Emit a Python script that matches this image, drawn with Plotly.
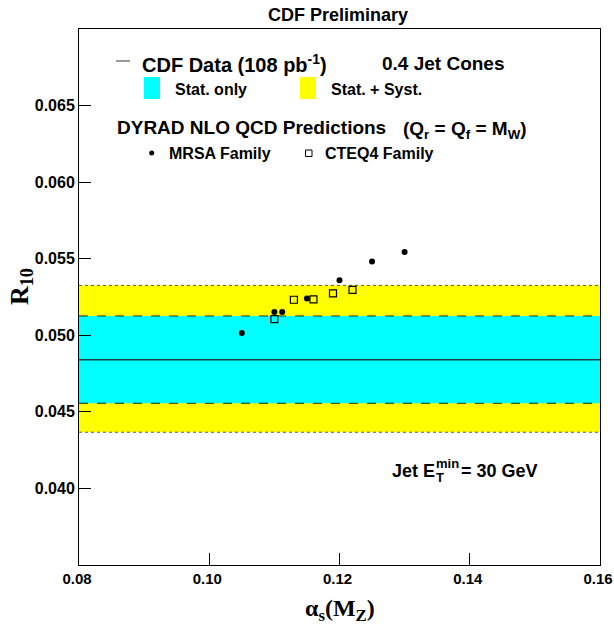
import plotly.graph_objects as go

# ---- data ----
MRSA_x = [0.105, 0.110, 0.1112, 0.115, 0.120, 0.125, 0.130]
MRSA_y = [0.05015, 0.05152, 0.05152, 0.05241, 0.05359, 0.05481, 0.05544]
CTEQ_x = [0.110, 0.113, 0.116, 0.119, 0.122]
CTEQ_y = [0.05106, 0.05232, 0.05235, 0.05274, 0.05296]
DATA_CENTER = 0.04841
STAT_LO, STAT_HI = 0.04556, 0.05126
SYST_LO, SYST_HI = 0.04367, 0.05326
X_RANGE = [0.08, 0.16]
Y_RANGE = [0.035, 0.070]
X_TICKS = [0.08, 0.10, 0.12, 0.14, 0.16]
X_TICKTEXT = ["0.08", "0.10", "0.12", "0.14", "0.16"]
Y_TICKS = [0.040, 0.045, 0.050, 0.055, 0.060, 0.065]
Y_TICKTEXT = ["0.040", "0.045", "0.050", "0.055", "0.060", "0.065"]

W, H = 614, 629
L, R, T, B = 79, 14, 29, 64
PW, PH = W - L - R, H - T - B
EPS = 1e-7


def px(x):
    return (x - L) / PW


def py(y):
    return (H - B - y) / PH


SANS = "Liberation Sans"
SERIF = "Liberation Serif"

fig = go.Figure()


def band(lo, hi, color):
    xs = [X_RANGE[0], X_RANGE[1], X_RANGE[1], X_RANGE[0], X_RANGE[0]]
    ys = [lo, lo, hi, hi, lo]
    fig.add_trace(go.Scatter(x=xs, y=ys, fill="toself", fillcolor=color,
                             line=dict(width=0), mode="lines", hoverinfo="skip",
                             showlegend=False))


def hline(yv, color, dash, width):
    fig.add_trace(go.Scatter(x=X_RANGE, y=[yv, yv], mode="lines",
                             line=dict(color=color, dash=dash, width=width),
                             hoverinfo="skip", showlegend=False))


band(SYST_LO, SYST_HI, "#ffff00")
band(STAT_LO, STAT_HI, "#00ffff")
hline(SYST_LO, "#555555", "dot", 1)
hline(SYST_HI, "#555555", "dot", 1)
hline(STAT_LO, "#222222", "dash", 1)
hline(STAT_HI, "#222222", "dash", 1)
hline(DATA_CENTER, "#1a4848", "solid", 1.5)

fig.add_trace(go.Scatter(x=MRSA_x, y=MRSA_y, mode="markers",
                         marker=dict(symbol="circle", size=6, color="black"),
                         showlegend=False))
fig.add_trace(go.Scatter(x=CTEQ_x, y=CTEQ_y, mode="markers",
                         marker=dict(symbol="square-open", size=7, color="black",
                                     line=dict(width=1.2, color="black")),
                         showlegend=False))

ann = []


def text(x, y, s, size, xanchor="left", family=SANS, bold=True, angle=0):
    ann.append(dict(x=px(x), y=py(y), xref="paper", yref="paper", text=s,
                    showarrow=False, xanchor=xanchor, yanchor="middle",
                    textangle=angle,
                    font=dict(family=family, size=size, color="black",
                              weight="bold" if bold else "normal")))


text(338, 15, "CDF Preliminary", 18, xanchor="center")
text(140, 63, "CDF Data (108 pb<sup>-1</sup>)", 20)
text(380, 63, "0.4 Jet Cones", 19)
text(173, 89, "Stat. only", 16)
text(329, 89, "Stat. + Syst.", 16)
text(115, 128, "DYRAD NLO QCD Predictions", 19)
text(401, 130, "(Q<sub>r</sub> = Q<sub>f</sub> = M<sub>W</sub>)", 19)
text(167, 153, "MRSA Family", 16)
text(323, 153, "CTEQ4 Family", 16)
text(390, 471, "Jet E", 18)
text(434, 477, "T", 13)
text(434, 463, "min", 13)
text(459, 471, "= 30 GeV", 18)
text(21, 287, "R<sub>10</sub>", 26, xanchor="center", family=SERIF, angle=-90)
text(340, 610, "α<sub>s</sub>(M<sub>Z</sub>)", 24, xanchor="center", family=SERIF)

shapes = [
    dict(type="line", xref="paper", yref="paper", x0=px(116), x1=px(130),
         y0=py(61), y1=py(61), line=dict(color="#333333", width=1)),
    dict(type="rect", xref="paper", yref="paper", x0=px(144), x1=px(160),
         y0=py(99), y1=py(77), fillcolor="#00ffff", line=dict(width=0)),
    dict(type="rect", xref="paper", yref="paper", x0=px(300), x1=px(316),
         y0=py(99), y1=py(77), fillcolor="#ffff00", line=dict(width=0)),
    dict(type="circle", xref="paper", yref="paper", x0=px(149.2), x1=px(154.2),
         y0=py(155.5), y1=py(150.5), fillcolor="black", line=dict(width=0)),
    dict(type="rect", xref="paper", yref="paper", x0=px(305.5), x1=px(312),
         y0=py(156.5), y1=py(150), fillcolor="rgba(0,0,0,0)",
         line=dict(color="black", width=1)),
]

axis_common = dict(showgrid=False, zeroline=False, showline=True, mirror=True,
                   linecolor="black", linewidth=1, ticks="inside", ticklen=12,
                   tickcolor="black", tickwidth=1, ticklabeloverflow="allow",
                   automargin=False)

fig.update_layout(
    width=W, height=H, margin=dict(l=L, r=R, t=T, b=B, autoexpand=False),
    paper_bgcolor="white", plot_bgcolor="white",
    xaxis=dict(range=[X_RANGE[0] - EPS, X_RANGE[1] + EPS], tickvals=X_TICKS,
               ticktext=X_TICKTEXT, ticklabelshift=-2,
               tickfont=dict(family=SANS, size=15, color="black", weight="bold"),
               **axis_common),
    yaxis=dict(range=Y_RANGE, tickvals=Y_TICKS, ticktext=Y_TICKTEXT,
               tickfont=dict(family=SANS, size=16, color="black", weight="bold"),
               **axis_common),
    annotations=ann, shapes=shapes, showlegend=False,
)

fig.write_html("out.html")
